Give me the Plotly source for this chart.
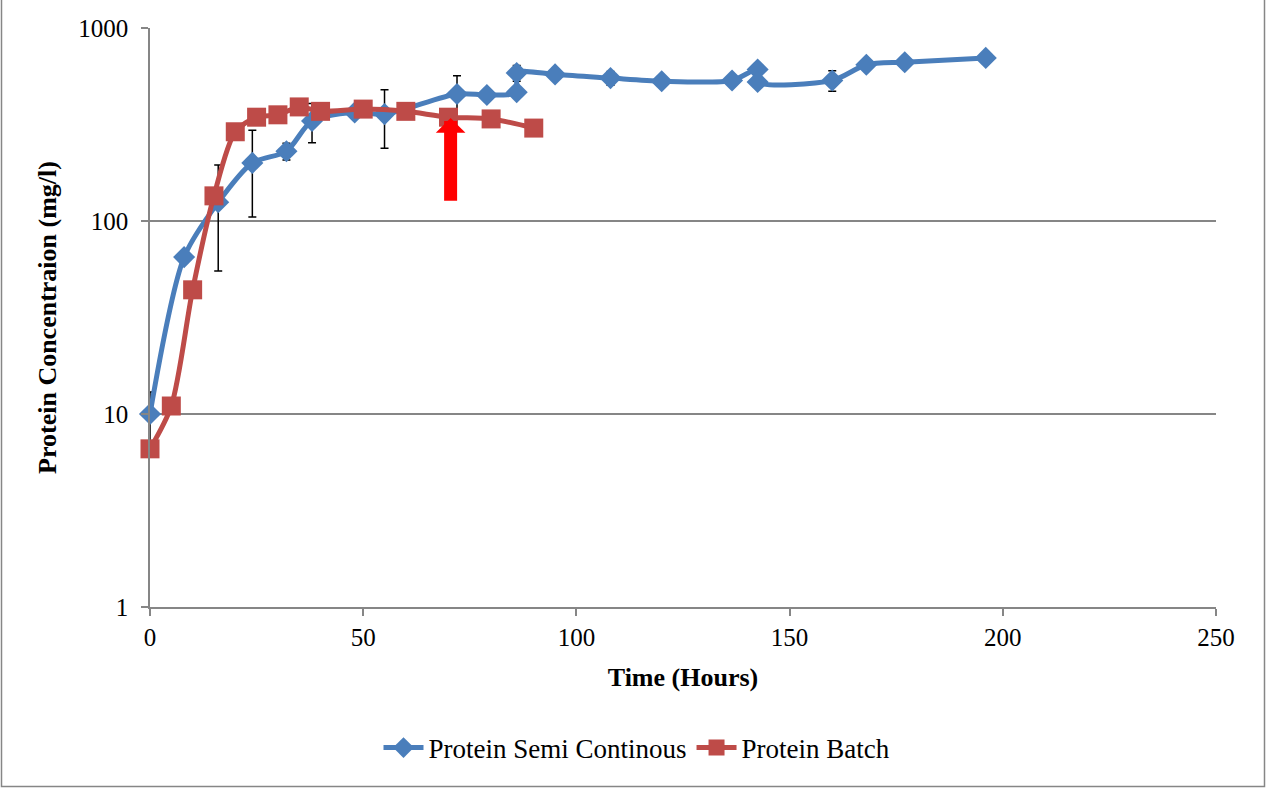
import math
import plotly.graph_objects as go

# ---- data ----
semi_time = [0, 8, 16, 24, 32, 38, 48, 55, 72, 79, 86, 86, 95, 108, 120, 136.5, 142.5, 142.5, 160, 168, 177, 196]
semi_protein = [10, 65, 125, 200, 230, 330, 365, 358, 455, 450, 465, 585, 575, 550, 530, 535, 610, 525, 535, 645, 665, 700]
semi_error = [3, None, 70, 95, 23, 76, None, 120, 110, None, None, 55, None, 45, None, None, None, None, 65, None, 45, None]

batch_time = [0, 5, 10, 15, 20, 25, 30, 35, 40, 50, 60, 70, 80, 90]
batch_protein = [6.6, 11, 44, 135, 290, 345, 355, 390, 370, 380, 370, 345, 338, 303]

arrow_time = 70.5
arrow_tip = 342
arrow_tail = 125

x_ticks = [0, 50, 100, 150, 200, 250]
y_ticks = [1, 10, 100, 1000]

FONT = "Liberation Serif, Times New Roman, serif"
BLUE = "#4A7EBB"
RED = "#BE4B48"
GRID = "#868686"

fig = go.Figure()

fig.add_trace(go.Scatter(
    x=semi_time, y=semi_protein, name="Protein Semi Continous",
    mode="lines+markers",
    line=dict(color=BLUE, width=5, shape="spline", smoothing=0.8),
    marker=dict(symbol="diamond", size=17, color=BLUE),
    error_y=dict(type="data", array=semi_error, symmetric=True,
                 color="black", thickness=1.5, width=4),
    cliponaxis=False,
))

fig.add_trace(go.Scatter(
    x=batch_time, y=batch_protein, name="Protein Batch",
    mode="lines+markers",
    line=dict(color=RED, width=5, shape="spline", smoothing=0.8),
    marker=dict(symbol="square", size=19, color=RED),
    cliponaxis=False,
))

fig.add_annotation(
    x=arrow_time, y=math.log10(arrow_tip), xref="x", yref="y",
    ax=arrow_time, ay=math.log10(arrow_tail), axref="x", ayref="y",
    text="", showarrow=True, arrowhead=1, arrowsize=0.38,
    arrowwidth=13, arrowcolor="#FF0000", standoff=0,
)

W, H = 1266, 788
ML, MR, MT, MB = 150, 50, 28, 181
pw, ph = W - ML - MR, H - MT - MB

fig.add_shape(
    type="rect", xref="paper", yref="paper",
    x0=(1.5 - ML) / pw, x1=(W - 1.5 - ML) / pw,
    y0=-(H - 1.5 - MT - ph) / ph, y1=(H - MB + MT - 1.5) / ph,
    line=dict(color=GRID, width=1.5), layer="below",
)

fig.update_layout(
    width=W, height=H,
    margin=dict(l=ML, r=MR, t=MT, b=MB, autoexpand=False),
    paper_bgcolor="white", plot_bgcolor="white",
    font=dict(family=FONT, size=25, color="black"),
    showlegend=True,
    legend=dict(orientation="h", x=(637 - ML) / pw, xanchor="center",
                y=-(748 - 607) / ph, yanchor="middle",
                font=dict(family=FONT, size=27, color="black"),
                itemwidth=40),
    xaxis=dict(
        range=[0, 250], tickvals=x_ticks, ticktext=[str(v) for v in x_ticks],
        showgrid=False, zeroline=False,
        showline=True, linecolor=GRID, linewidth=1.5,
        ticks="outside", ticklen=7, tickcolor=GRID, tickwidth=1.5,
        tickfont=dict(family=FONT, size=25),
        title=dict(text="<b>Time (Hours)</b>", font=dict(family=FONT, size=26), standoff=18),
    ),
    yaxis=dict(
        type="log", range=[0, 3], tickvals=y_ticks, ticktext=[str(v) for v in y_ticks],
        showgrid=True, gridcolor=GRID, gridwidth=1.5, zeroline=False,
        showline=True, linecolor=GRID, linewidth=1.5,
        ticks="outside", ticklen=7, tickcolor=GRID, tickwidth=1.5,
        ticklabelstandoff=8,
        tickfont=dict(family=FONT, size=25),
        title=dict(text="<b>Protein Concentraion (mg/l)</b>", font=dict(family=FONT, size=26), standoff=14),
    ),
)

fig.write_html("out.html")
